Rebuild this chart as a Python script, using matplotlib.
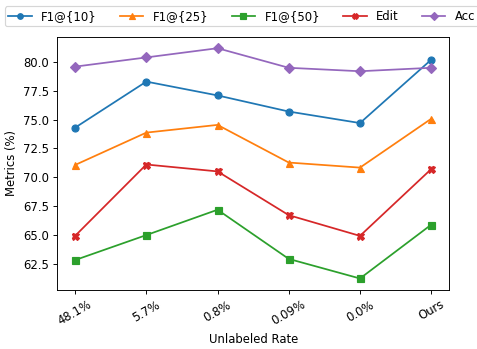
import matplotlib
matplotlib.use('Agg')
import matplotlib.pyplot as plt

# Metrics vs. unlabeled rate
rates = ['48.1%', '5.7%', '0.8%', '0.09%', '0.0%', 'Ours']
f1_10 = [74.3, 78.3, 77.1, 75.7, 74.7, 80.2]
f1_25 = [71.06, 73.87, 74.54, 71.27, 70.83, 75.07]
f1_50 = [62.8, 64.97, 67.17, 62.9, 61.2, 65.87]
edit = [64.9, 71.1, 70.5, 66.7, 64.9, 70.7]
acc = [79.6, 80.4, 81.2, 79.5, 79.2, 79.5]

def main():
    dpi = 84
    fig = plt.figure(figsize=(477 / dpi, 349 / dpi), dpi=dpi)
    ax = fig.add_axes([57.3 / 477, 1 - 290 / 349, (449 - 57.3) / 477, (290 - 36.7) / 349])
    x = range(len(rates))
    ax.plot(x, f1_10, marker='o', label='F1@{10}')
    ax.plot(x, f1_25, marker='^', label='F1@{25}')
    ax.plot(x, f1_50, marker='s', label='F1@{50}')
    ax.plot(x, edit, marker='X', label='Edit')
    ax.plot(x, acc, marker='D', label='Acc')
    ax.set_xticks(list(x))
    ax.set_xticklabels(rates, rotation=30)
    ax.set_xlabel('Unlabeled Rate')
    ax.set_ylabel('Metrics (%)')
    fig.legend(loc='upper left', ncol=5, borderpad=0.3, markerscale=0.8,
               bbox_to_anchor=(-1 / 477, 1 - 0.5 / 349))
    fig.savefig('out.png', dpi=dpi)

main()
